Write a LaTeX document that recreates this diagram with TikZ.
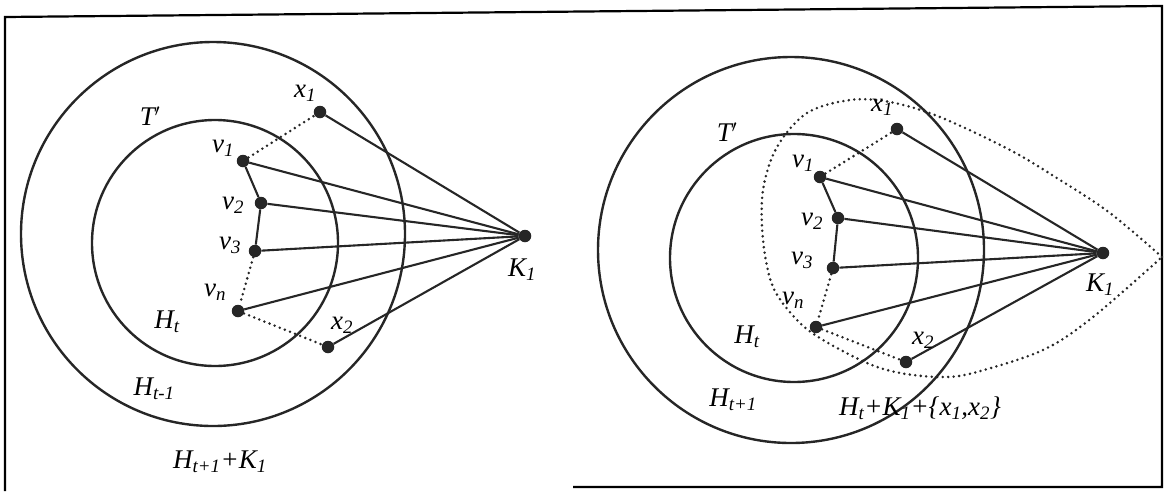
\documentclass[tikz,border=0pt]{standalone}
\usepackage{fontspec}
\setmainfont{Liberation Serif}
\newcommand\lbl[2]{\textit{#1}\textsubscript{\textit{#2}}}
\begin{document}
\begin{tikzpicture}[x=1pt,y=-1pt,
  ring/.style={line width=2.4pt, draw=black!85},
  vtx/.style={circle, fill=black!85, inner sep=0pt, minimum size=12.5pt},
  edge/.style={line width=2.1pt, draw=black!85},
  dotedge/.style={line width=2.8pt, draw=black!85, dash pattern=on 0pt off 5.5pt, line cap=round},
  lab/.style={font=\fontsize{27}{30}\selectfont\itshape, inner sep=0pt},
  framestyle/.style={line width=2.2pt}]
\useasboundingbox (0,0) rectangle (1166,491);
% frame
\coordinate (f1) at (5,491);
\coordinate (f2) at (5,17);
\coordinate (f3) at (1162,6);
\coordinate (f4) at (1162,487);
\coordinate (f5) at (573,487);
\draw[framestyle] (f1) -- (f2) -- (f3) -- (f4) -- (f5);

% ---------- left diagram ----------
\draw[ring] (213,234) circle[radius=192];
\draw[ring] (215,243) circle[radius=123];
\node[vtx] (Lx1) at (320,112) {};
\node[vtx] (Lv1) at (243,161) {};
\node[vtx] (Lv2) at (261,203) {};
\node[vtx] (Lv3) at (255,251) {};
\node[vtx] (Lvn) at (238,311) {};
\node[vtx] (Lx2) at (328,347) {};
\node[vtx] (LK) at (525,236) {};
\draw[dotedge] (Lv1) -- (Lx1);
\draw[dotedge] (Lv3) -- (Lvn);
\draw[dotedge] (Lvn) -- (Lx2);
\draw[edge] (Lv1) -- (Lv2) -- (Lv3);
\foreach \n in {Lx1,Lv1,Lv2,Lv3,Lvn,Lx2} \draw[edge] (LK) -- (\n);
\node[lab] (LTl) at (150,116) {T$'$};
\node[lab] (Lx1l) at (305,93) {\lbl{x}{1}};
\node[lab] (Lv1l) at (223,148) {\lbl{v}{1}};
\node[lab] (Lv2l) at (233,205) {\lbl{v}{2}};
\node[lab] (Lv3l) at (230,245) {\lbl{v}{3}};
\node[lab] (Lvnl) at (215,292) {\lbl{v}{n}};
\node[lab] (LHtl) at (167,322) {\lbl{H}{t}};
\node[lab] (Lx2l) at (342,325) {\lbl{x}{2}};
\node[lab] (LKl) at (522,270) {\lbl{K}{1}};
\node[lab] (LHt1l) at (154,389) {\textit{H}\textsubscript{\textit{t}-\textit{1}}};
\node[lab] (LHKl) at (220,462) {\textit{H}\textsubscript{\textit{t}+\textit{1}}+\lbl{K}{1}};

% ---------- right diagram ----------
\draw[ring] (791,250) circle[radius=193];
\draw[ring] (794,258) circle[radius=124];
\draw[dotedge] plot[smooth, tension=0.55] coordinates {(1162,257) (1110,213) (1060,180) (1010,150) (940,117) (890,102) (850,100) (807,113) (777,147) (763,190) (763,240) (773,287) (797,320) (823,340) (867,363) (900,373) (940,377) (973,373) (1043,350) (1093,317) (1162,257)};
\node[vtx] (Rx1) at (897,129) {};
\node[vtx] (Rv1) at (820,177) {};
\node[vtx] (Rv2) at (838,218) {};
\node[vtx] (Rv3) at (833,268) {};
\node[vtx] (Rvn) at (816,327) {};
\node[vtx] (Rx2) at (906,362) {};
\node[vtx] (RK) at (1103,253) {};
\draw[dotedge] (Rv1) -- (Rx1);
\draw[dotedge] (Rv3) -- (Rvn);
\draw[dotedge] (Rvn) -- (Rx2);
\draw[edge] (Rv1) -- (Rv2) -- (Rv3);
\foreach \n in {Rx1,Rv1,Rv2,Rv3,Rvn,Rx2} \draw[edge] (RK) -- (\n);
\node[lab] (RTl) at (727,132) {T$'$};
\node[lab] (Rx1l) at (882,107) {\lbl{x}{1}};
\node[lab] (Rv1l) at (803,163) {\lbl{v}{1}};
\node[lab] (Rv2l) at (812,221) {\lbl{v}{2}};
\node[lab] (Rv3l) at (802,260) {\lbl{v}{3}};
\node[lab] (Rvnl) at (793,300) {\lbl{v}{n}};
\node[lab] (RHtl) at (747,337) {\lbl{H}{t}};
\node[lab] (Rx2l) at (923,340) {\lbl{x}{2}};
\node[lab] (RKl) at (1100,285) {\lbl{K}{1}};
\node[lab] (RHt1l) at (733,400) {\textit{H}\textsubscript{\textit{t}+\textit{1}}};
\node[lab] (RHKl) at (920,408) {\lbl{H}{t}+\lbl{K}{1}+\{\lbl{x}{1},\lbl{x}{2}\}};
\end{tikzpicture}
\end{document}
